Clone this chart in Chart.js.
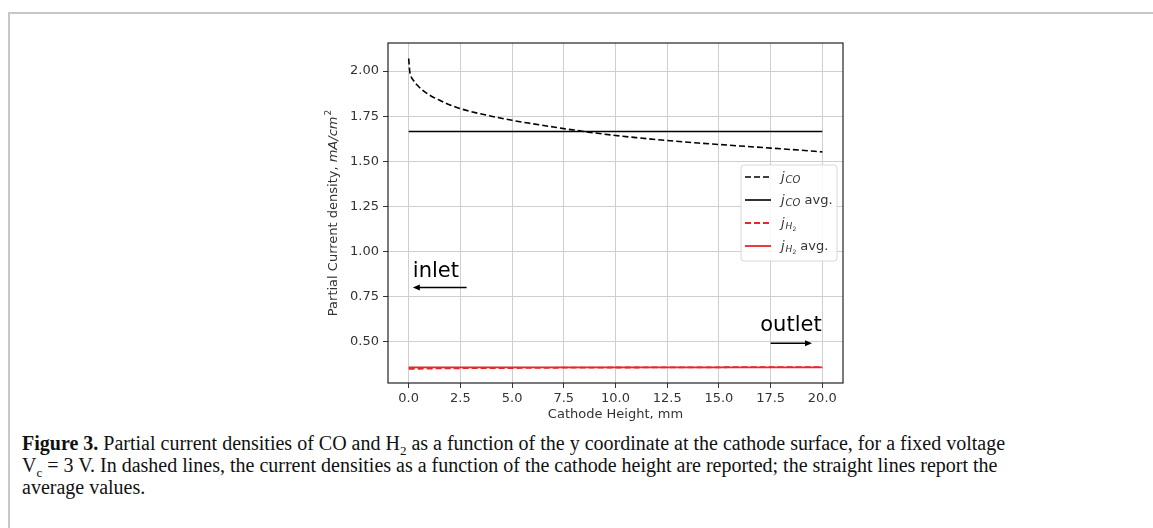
<!DOCTYPE html>
<html>
<head>
<meta charset="utf-8">
<script src="https://cdn.jsdelivr.net/npm/chart.js@4/dist/chart.umd.min.js"></script>
<style>
  body { margin: 0; background: #fff; width: 1153px; height: 528px; overflow: hidden; position: relative; }
  .frame { position: absolute; left: 8px; top: 12px; right: 0; bottom: 0; border-top: 2px solid #c8c8c8; border-left: 2px solid #c8c8c8; }
  .plot { position: absolute; left: 300px; top: 30px; width: 580px; height: 400px; }
  .caption { position: absolute; left: 22px; top: 432px; font-family: "Liberation Serif", serif; font-size: 20px; line-height: 22px; color: #111; white-space: nowrap; }
  .caption sub { font-size: 13px; line-height: 0; }
</style>
</head>
<body>
<div class="frame"></div>
<div class="plot"><canvas id="chart"></canvas></div>
<div class="caption">
  <b>Figure 3.</b> Partial current densities of CO and H<sub>2</sub> as a function of the y coordinate at the cathode surface, for a fixed voltage<br>
  V<sub>c</sub> = 3 V. In dashed lines, the current densities as a function of the cathode height are reported; the straight lines report the<br>
  average values.
</div>
<script>
// cathode height (mm) and partial current densities (mA/cm2)
const heightMm = [0, 0.05, 0.1, 0.25, 0.5, 1, 1.5, 2, 2.5, 3, 4, 5, 6, 7, 7.5, 8, 9, 10, 11, 12.5, 14, 15, 16, 17.5, 19, 20];
const jCO = [2.07, 2.0, 1.975, 1.945, 1.912, 1.868, 1.838, 1.812, 1.792, 1.776, 1.75, 1.727, 1.708, 1.69, 1.681, 1.673, 1.657, 1.643, 1.631, 1.615, 1.601, 1.593, 1.585, 1.573, 1.561, 1.552];
const jH2 = [0.347, 0.348, 0.348, 0.349, 0.349, 0.35, 0.351, 0.351, 0.352, 0.352, 0.353, 0.353, 0.354, 0.354, 0.355, 0.355, 0.355, 0.356, 0.356, 0.357, 0.357, 0.357, 0.358, 0.358, 0.358, 0.358];
const jCOAvg = 1.665;
const jH2Avg = 0.357;
const avgRange = [0, 20];

const xTicks = [0, 2.5, 5, 7.5, 10, 12.5, 15, 17.5, 20];
const yTicks = [0.5, 0.75, 1.0, 1.25, 1.5, 1.75, 2.0];

// inlet / outlet notes: text anchor and arrow from -> to, in data units
const inletNote = { text: 'inlet', x: 0.2, y: 0.86, from: [2.8, 0.8], to: [0.2, 0.8] };
const outletNote = { text: 'outlet', x: 17.0, y: 0.56, from: [17.5, 0.49], to: [19.5, 0.49] };

Chart.defaults.font.family = 'DejaVu Sans';
Chart.defaults.font.size = 13;
Chart.defaults.color = '#333';

const pts = (ys) => heightMm.map((x, i) => ({ x: x, y: ys[i] }));
const flat = (v) => avgRange.map(x => ({ x: x, y: v }));

function drawLabel(ctx, label, x, y) {
  // label like "j_CO", "j_H2 avg."
  const m = label.match(/^j_(CO|H2)(.*)$/);
  ctx.textBaseline = 'alphabetic';
  ctx.textAlign = 'left';
  ctx.fillStyle = '#333';
  ctx.font = 'italic 13px DejaVu Sans';
  ctx.fillText('j', x, y + 4);
  x += ctx.measureText('j').width + 1;
  if (m[1] === 'CO') {
    ctx.font = 'italic 10px DejaVu Sans';
    ctx.fillText('CO', x, y + 6);
    x += ctx.measureText('CO').width;
  } else {
    ctx.font = 'italic 9px DejaVu Sans';
    ctx.fillText('H', x, y + 6);
    x += ctx.measureText('H').width;
    ctx.font = '6px DejaVu Sans';
    ctx.fillText('2', x, y + 8);
    x += ctx.measureText('2').width;
  }
  if (m[2]) {
    ctx.font = '13px DejaVu Sans';
    ctx.fillText(m[2], x, y + 4);
  }
}

function arrow(ctx, x1, y1, x2, y2) {
  const a = Math.atan2(y2 - y1, x2 - x1);
  ctx.beginPath();
  ctx.moveTo(x1, y1);
  ctx.lineTo(x2 - 6 * Math.cos(a), y2 - 6 * Math.sin(a));
  ctx.stroke();
  ctx.beginPath();
  ctx.moveTo(x2, y2);
  ctx.lineTo(x2 - 7 * Math.cos(a) + 3 * Math.sin(a), y2 - 7 * Math.sin(a) - 3 * Math.cos(a));
  ctx.lineTo(x2 - 7 * Math.cos(a) - 3 * Math.sin(a), y2 - 7 * Math.sin(a) + 3 * Math.cos(a));
  ctx.closePath();
  ctx.fill();
}

const extras = {
  id: 'extras',
  afterDatasetsDraw(chart) {
    const { ctx, chartArea: a, scales: { x, y } } = chart;
    ctx.save();
    // frame
    ctx.strokeStyle = '#222';
    ctx.lineWidth = 1.2;
    ctx.strokeRect(a.left, a.top, a.right - a.left, a.bottom - a.top);

    // notes
    ctx.fillStyle = '#000';
    ctx.strokeStyle = '#000';
    ctx.lineWidth = 1.5;
    ctx.font = '21px DejaVu Sans';
    ctx.textBaseline = 'alphabetic';
    for (const n of [inletNote, outletNote]) {
      ctx.fillText(n.text, x.getPixelForValue(n.x), y.getPixelForValue(n.y));
      arrow(ctx, x.getPixelForValue(n.from[0]), y.getPixelForValue(n.from[1]),
                 x.getPixelForValue(n.to[0]), y.getPixelForValue(n.to[1]));
    }

    // legend, centre right
    const w = 96, h = 96;
    const bx = a.right - 6 - w, by = (a.top + a.bottom) / 2 - h / 2;
    ctx.fillStyle = 'rgba(255,255,255,0.85)';
    ctx.strokeStyle = '#d8d8d8';
    ctx.lineWidth = 1;
    ctx.beginPath();
    ctx.roundRect(bx, by, w, h, 3);
    ctx.fill();
    ctx.stroke();
    chart.data.datasets.forEach((ds, i) => {
      const ry = by + 12 + i * 23;
      ctx.strokeStyle = ds.borderColor;
      ctx.lineWidth = ds.borderWidth;
      ctx.setLineDash(ds.borderDash || []);
      ctx.beginPath();
      ctx.moveTo(bx + 4, ry);
      ctx.lineTo(bx + 30, ry);
      ctx.stroke();
      ctx.setLineDash([]);
      drawLabel(ctx, ds.label, bx + 40, ry);
    });

    // y axis title with italic unit
    const cy = (a.top + a.bottom) / 2;
    ctx.translate(a.left - 54, cy);
    ctx.rotate(-Math.PI / 2);
    ctx.fillStyle = '#333';
    ctx.textBaseline = 'middle';
    const p1 = 'Partial Current density, ', p2 = 'mA/cm', p3 = '2';
    ctx.font = '13px DejaVu Sans';
    const w1 = ctx.measureText(p1).width;
    ctx.font = 'italic 13px DejaVu Sans';
    const w2 = ctx.measureText(p2).width;
    ctx.font = '9px DejaVu Sans';
    const w3 = ctx.measureText(p3).width;
    let tx = -(w1 + w2 + w3 + 1) / 2;
    ctx.font = '13px DejaVu Sans';
    ctx.fillText(p1, tx, 0);
    tx += w1;
    ctx.font = 'italic 13px DejaVu Sans';
    ctx.fillText(p2, tx, 0);
    tx += w2 + 1;
    ctx.font = '9px DejaVu Sans';
    ctx.fillText(p3, tx, -5);
    ctx.restore();
  }
};

new Chart(document.getElementById('chart'), {
  type: 'line',
  data: {
    datasets: [
      { label: 'j_CO', data: pts(jCO), borderColor: '#000', borderWidth: 1.6, borderDash: [6, 3], order: 3, cubicInterpolationMode: 'monotone' },
      { label: 'j_CO avg.', data: flat(jCOAvg), borderColor: '#000', borderWidth: 1.6, order: 2 },
      { label: 'j_H2', data: pts(jH2), borderColor: '#e8262b', borderWidth: 1.8, borderDash: [6, 3], order: 1 },
      { label: 'j_H2 avg.', data: flat(jH2Avg), borderColor: '#e8262b', borderWidth: 1.8, order: 0 }
    ]
  },
  options: {
    responsive: true,
    maintainAspectRatio: false,
    animation: false,
    elements: { point: { radius: 0 } },
    layout: { padding: { top: 13, right: 37, bottom: 2, left: 0 } },
    plugins: { legend: { display: false }, tooltip: { enabled: false } },
    scales: {
      x: {
        type: 'linear',
        min: -1,
        max: 21,
        afterBuildTicks: (s) => { s.ticks = xTicks.map(v => ({ value: v })); },
        afterFit: (s) => { s.height = 45; },
        ticks: { callback: (v) => v.toFixed(1), maxRotation: 0, padding: 3, color: '#333' },
        grid: { color: '#cfcfcf', lineWidth: 1, tickLength: 5, tickColor: '#333' },
        border: { display: false },
        title: { display: true, text: 'Cathode Height, mm', color: '#333', padding: { top: 0, bottom: 6 } }
      },
      y: {
        type: 'linear',
        min: 0.27,
        max: 2.156,
        afterBuildTicks: (s) => { s.ticks = yTicks.map(v => ({ value: v })); },
        afterFit: (s) => { s.width = 88; },
        ticks: { callback: (v) => v.toFixed(2), padding: 4, color: '#333' },
        grid: { color: '#cfcfcf', lineWidth: 1, tickLength: 5, tickColor: '#333' },
        border: { display: false }
      }
    }
  },
  plugins: [extras]
});
</script>
</body>
</html>
